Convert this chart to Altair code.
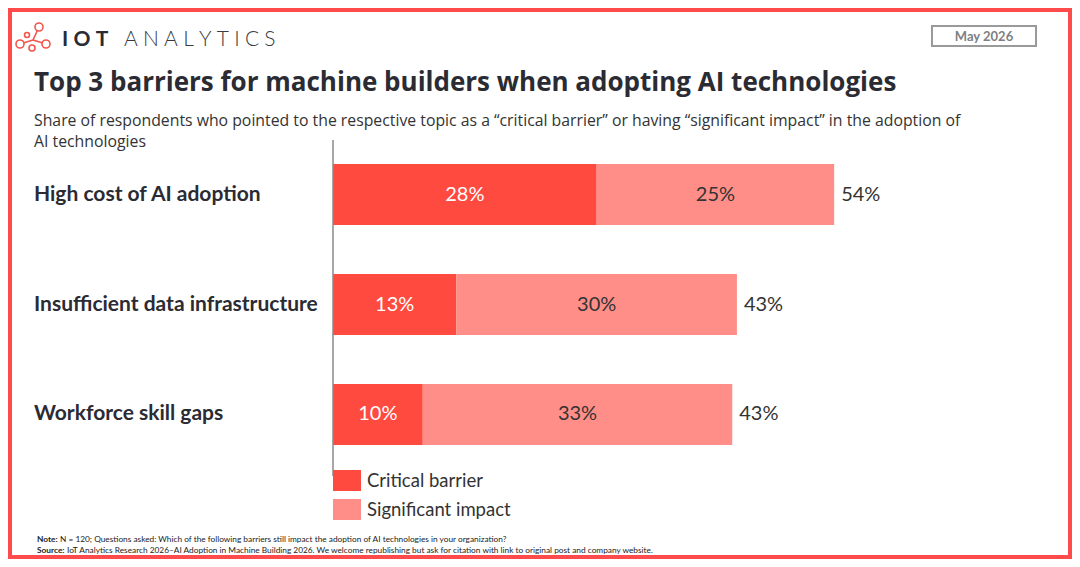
import altair as alt
import pandas as pd

# ---------------- data ----------------
categories = ["High cost of AI adoption", "Insufficient data infrastructure", "Workforce skill gaps"]
series_names = ["Critical barrier", "Significant impact"]
critical = [28.2, 13.2, 9.6]
significant = [25.4, 30.0, 33.1]
critical_labels = ["28%", "13%", "10%"]
significant_labels = ["25%", "30%", "33%"]
total_labels = ["54%", "43%", "43%"]

title_text = "Top 3 barriers for machine builders when adopting AI technologies"
subtitle_lines = [
    "Share of respondents who pointed to the respective topic as a \u201ccritical barrier\u201d or having \u201csignificant impact\u201d in the adoption of",
    "AI technologies",
]
note_text = "N = 120; Questions asked: Which of the following barriers still impact the adoption of AI technologies in your organization?"
source_text = "IoT Analytics Research 2026\u2013AI Adoption in Machine Building 2026. We welcome republishing but ask for citation with link to original post and company website."
date_text = "May 2026"

# ---------------- styles ----------------
C_CRIT = "#FF4A40"
C_SIG = "#FF8E88"
C_TEXT = "#333333"
C_CAT = "#2B2B33"
RED = "#F2554D"
W, H = 1064, 551

rows = []
for c, a, b, la, lb in zip(categories, critical, significant, critical_labels, significant_labels):
    rows.append({"category": c, "series": series_names[0], "start": 0.0, "end": a, "label": la})
    rows.append({"category": c, "series": series_names[1], "start": a, "end": a + b, "label": lb})
long_df = pd.DataFrame(rows)
tot_df = pd.DataFrame({
    "category": categories,
    "total": [a + b for a, b in zip(critical, significant)],
    "label": total_labels,
})

xscale = alt.Scale(domain=[0, 100], range=[325, 1260], nice=False, zero=True)
yscale = alt.Scale(domain=categories, range=[156, 437], paddingInner=0.445, paddingOuter=0)
Y = alt.Y("category:N", scale=yscale, axis=None, sort=categories)

bars = alt.Chart(long_df).mark_bar().encode(
    x=alt.X("start:Q", scale=xscale, axis=None),
    x2="end:Q",
    y=Y,
    color=alt.Color("series:N", scale=alt.Scale(domain=series_names, range=[C_CRIT, C_SIG]), legend=None),
)

seg_labels = alt.Chart(long_df).transform_calculate(
    mid="(datum.start + datum.end) / 2"
).mark_text(font="Lato", fontSize=20, baseline="middle", align="center").encode(
    x=alt.X("mid:Q", scale=xscale, axis=None),
    y=Y,
    text="label:N",
    color=alt.condition(alt.datum.series == series_names[0], alt.value("white"), alt.value(C_TEXT)),
)

tot_labels = alt.Chart(tot_df).mark_text(
    font="Lato", fontSize=20, baseline="middle", align="left", dx=7, color=C_TEXT
).encode(
    x=alt.X("total:Q", scale=xscale, axis=None),
    y=Y,
    text="label:N",
)

cat_labels = alt.Chart(tot_df).mark_text(
    font="Lato", fontSize=21, fontWeight="bold", baseline="middle", align="left", color=C_CAT
).encode(
    x=alt.value(26),
    y=Y,
    text="category:N",
)

one = pd.DataFrame({"k": [0]})


def txt(s, x, y, **kw):
    return alt.Chart(pd.DataFrame({"t": [s]})).mark_text(**kw).encode(
        x=alt.value(x), y=alt.value(y), text="t:N"
    )


def rule(x, y, x2, y2, **kw):
    return alt.Chart(one).mark_rule(**kw).encode(
        x=alt.value(x), y=alt.value(y), x2=alt.value(x2), y2=alt.value(y2)
    )


def rect(x, y, x2, y2, **kw):
    return alt.Chart(one).mark_rect(**kw).encode(
        x=alt.value(x), y=alt.value(y), x2=alt.value(x2), y2=alt.value(y2)
    )


def circ(x, y, r):
    return alt.Chart(one).mark_point(
        shape="circle", filled=True, fill="white", stroke=RED, strokeWidth=1.6, opacity=1, size=(2 * r) ** 2
    ).encode(x=alt.value(x), y=alt.value(y))


deco = []
# border
deco.append(rect(2, 2, W - 2, H - 2, fill=None, filled=False, stroke="#FF4B4B", strokeWidth=4))
# logo
jx, jy = 25, 32
deco.append(rule(jx, jy, 31, 19, color=RED, strokeWidth=1.6))
deco.append(rule(jx, jy, 12, 36, color=RED, strokeWidth=1.6))
deco.append(rule(jx, jy, 38, 36, color=RED, strokeWidth=1.6))
for (cx, cy, r) in [(31, 19, 4), (12, 36, 4), (38, 36, 4), (24, 40, 3), (19, 27, 2.5)]:
    deco.append(circ(cx, cy, r))
deco.append(txt("I\u2009\u2009O\u2009\u2009T", 54, 38, font="Lato", fontSize=21, fontWeight="bold", color="#2B2B33", align="left", baseline="alphabetic"))
deco.append(txt("A\u2005N\u2005A\u2005L\u2005Y\u2005T\u2005I\u2005C\u2005S", 116, 38, font="Lato", fontSize=21, fontWeight=300, color="#3A3A42", align="left", baseline="alphabetic"))
# date box
deco.append(rect(924, 18, 1028, 38, fill=None, filled=False, stroke="#9A9A9A", strokeWidth=2))
deco.append(txt(date_text, 976, 29, font="Lato", fontSize=13, fontWeight="bold", color="#7F7F7F", align="center", baseline="middle"))
# titles
deco.append(txt(title_text, 26, 83, font="Open Sans", fontSize=26, fontWeight="bold", color="#2B2B33", align="left", baseline="alphabetic"))
deco.append(txt(subtitle_lines[0], 26, 118, font="Open Sans", fontSize=15.8, color=C_TEXT, align="left", baseline="alphabetic"))
deco.append(txt(subtitle_lines[1], 26, 139, font="Open Sans", fontSize=15.8, color=C_TEXT, align="left", baseline="alphabetic"))
# axis line
deco.append(rule(325, 132, 325, 468, color="#8A8A8A", strokeWidth=1.5))
# legend
deco.append(rect(325, 462, 353, 483, color=C_CRIT))
deco.append(rect(325, 491, 353, 512, color=C_SIG))
deco.append(txt(series_names[0], 359, 473, font="Lato", fontSize=18.5, color=C_TEXT, align="left", baseline="middle"))
deco.append(txt(series_names[1], 359, 502, font="Lato", fontSize=18.5, color=C_TEXT, align="left", baseline="middle"))
# footer
deco.append(txt("Note:", 29, 532, font="Lato", fontSize=8.3, fontWeight="bold", color="#222222", align="left", baseline="middle"))
deco.append(txt(note_text, 52, 532, font="Lato", fontSize=8.3, color="#222222", align="left", baseline="middle"))
deco.append(txt("Source:", 29, 543, font="Lato", fontSize=8.3, fontWeight="bold", color="#222222", align="left", baseline="middle"))
deco.append(txt(source_text, 59, 543, font="Lato", fontSize=8.3, color="#222222", align="left", baseline="middle"))

chart = alt.layer(bars, seg_labels, tot_labels, cat_labels, *deco).properties(
    width=W, height=H, autosize=alt.AutoSizeParams(type="none"), padding=0
).configure_view(stroke=None).configure(background="white")

chart.save("out.html", embed_options={"renderer": "svg", "actions": False})
